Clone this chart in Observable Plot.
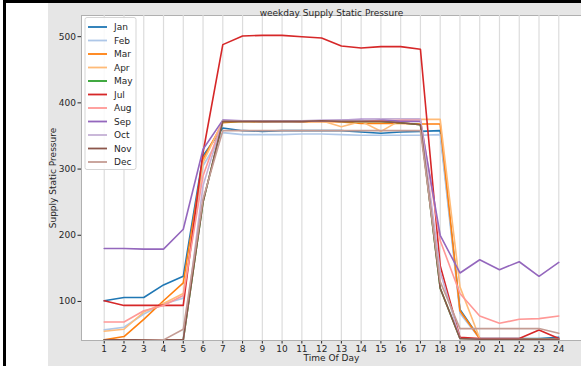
<!DOCTYPE html>
<html>
<head>
<meta charset="utf-8">
<script src="https://cdn.jsdelivr.net/npm/d3@7"></script>
<script src="https://cdn.jsdelivr.net/npm/@observablehq/plot@0.6"></script>
<style>
  body { margin: 0; background: #fff; }
  #fig { position: relative; width: 581px; height: 366px; overflow: hidden; background: #e6e6e6; font-family: "DejaVu Sans", sans-serif; }
  #fig .edge-top { position: absolute; left: 3px; top: 0; width: 578px; height: 3px; background: #000; }
  #fig .edge-left { position: absolute; left: 3px; top: 0; width: 3px; height: 366px; background: #000; }
  #fig .pad-left { position: absolute; left: 0; top: 0; width: 3px; height: 366px; background: #fff; }
  #fig .strip { position: absolute; left: 6px; top: 3px; width: 42px; height: 363px; background: #fff; }
  #fig svg { position: absolute; left: 0; top: 0; }
</style>
</head>
<body>
<div id="fig">
  <div class="pad-left"></div>
  <div class="strip"></div>
  <div class="edge-top"></div>
  <div class="edge-left"></div>
</div>
<script>
// Hour of day (x) and y tick values
const hours = [1, 2, 3, 4, 5, 6, 7, 8, 9, 10, 11, 12, 13, 14, 15, 16, 17, 18, 19, 20, 21, 22, 23, 24];
const yTicks = [100, 200, 300, 400, 500];

// Monthly weekday profiles of supply static pressure, one value per hour
const months = ["Jan", "Feb", "Mar", "Apr", "May", "Jul", "Aug", "Sep", "Oct", "Nov", "Dec"];
const colors = ["#1f77b4", "#aec7e8", "#ff7f0e", "#ffbb78", "#2ca02c", "#d62728", "#ff9896", "#9467bd", "#c5b0d5", "#8c564b", "#c49c94"];

const jan = [101, 106, 106, 125, 138, 320, 362, 358, 357, 358, 358, 358, 358, 356, 354, 356, 357, 358, 88, 44, 44, 44, 44, 46];
const feb = [57, 61, 81, 96, 105, 305, 355, 352, 352, 352, 353, 353, 352, 351, 351, 351, 351, 352, 82, 44, 43, 43, 43, 43];
const mar = [42, 47, 73, 101, 128, 315, 370, 372, 371, 372, 371, 372, 371, 369, 369, 369, 368, 368, 86, 44, 43, 43, 43, 43];
const apr = [55, 58, 84, 97, 112, 310, 372, 373, 372, 373, 373, 373, 364, 372, 357, 374, 375, 375, 122, 44, 43, 43, 43, 43];
const may = [42, 42, 42, 42, 42, 250, 372, 372, 372, 372, 372, 373, 372, 372, 372, 370, 367, 120, 44, 43, 43, 43, 43, 43];
const jul = [101, 94, 94, 94, 94, 325, 488, 501, 502, 502, 500, 498, 486, 483, 485, 485, 481, 154, 46, 44, 44, 44, 57, 44];
const aug = [69, 69, 86, 94, 109, 290, 373, 372, 372, 372, 372, 373, 372, 373, 373, 374, 375, 192, 112, 78, 67, 73, 74, 78];
const sep = [180, 180, 179, 179, 209, 330, 374, 373, 372, 372, 372, 373, 374, 375, 375, 372, 372, 200, 143, 163, 148, 160, 138, 159];
const oct = [40, 40, 40, 40, 42, 275, 373, 373, 373, 373, 373, 374, 374, 374, 376, 376, 376, 145, 44, 43, 43, 43, 43, 43];
const nov = [42, 42, 42, 42, 42, 250, 372, 372, 372, 372, 372, 373, 372, 372, 372, 370, 367, 120, 44, 43, 43, 43, 43, 43];
const dec = [40, 40, 41, 42, 58, 255, 358, 358, 358, 358, 358, 358, 358, 358, 358, 358, 358, 130, 59, 59, 59, 59, 59, 52];

const series = [jan, feb, mar, apr, may, jul, aug, sep, oct, nov, dec];
const rows = months.flatMap((m, i) => hours.map((h, j) => ({month: m, hour: h, value: series[i][j]})));

const chart = Plot.plot({
  width: 581,
  height: 366,
  marginLeft: 81,
  marginRight: 0,
  marginTop: 15,
  marginBottom: 26,
  style: {background: "transparent", fontFamily: "DejaVu Sans, sans-serif", fontSize: "9px", color: "#262626"},
  x: {domain: [-0.15, 25.15], ticks: hours, tickSize: 3.5, tickPadding: 1.5, tickFormat: d => d,
      label: "Time Of Day", labelAnchor: "center", labelArrow: "none", labelOffset: 20},
  y: {domain: [41, 532], ticks: yTicks, tickSize: 3.5, tickPadding: 2,
      label: "Supply Static Pressure", labelAnchor: "center", labelArrow: "none", labelOffset: 32},
  color: {domain: months, range: colors},
  marks: [
    Plot.frame({fill: "white", stroke: "#b0b0b0"}),
    Plot.gridX(hours, {stroke: "#dcdcdc", strokeOpacity: 1, strokeWidth: 1.2}),
    Plot.lineY(rows, {x: "hour", y: "value", z: "month", stroke: "month", strokeWidth: 1.6, clip: true}),
    Plot.text(["weekday Supply Static Pressure"], {frameAnchor: "top", dy: -6, fontSize: 9, fill: "#262626"})
  ]
});

// Legend box in the upper-left corner of the plot area
const svg = d3.select(chart);
const legend = svg.append("g")
  .attr("font-family", "DejaVu Sans, sans-serif")
  .attr("font-size", 9)
  .attr("text-anchor", "start");
legend.append("rect")
  .attr("x", 85).attr("y", 17.5).attr("width", 51).attr("height", 152).attr("rx", 2)
  .attr("fill", "white").attr("fill-opacity", 0.85).attr("stroke", "#d5d5d5");
months.forEach((m, i) => {
  const y = 27 + 13.5 * i;
  legend.append("line").attr("x1", 88).attr("x2", 107).attr("y1", y).attr("y2", y)
    .attr("stroke", colors[i]).attr("stroke-width", 1.8);
  legend.append("text").attr("x", 114).attr("y", y).attr("dy", "0.35em")
    .attr("text-anchor", "start").attr("fill", "#262626").text(m);
});

document.getElementById("fig").appendChild(chart);
</script>
</body>
</html>
